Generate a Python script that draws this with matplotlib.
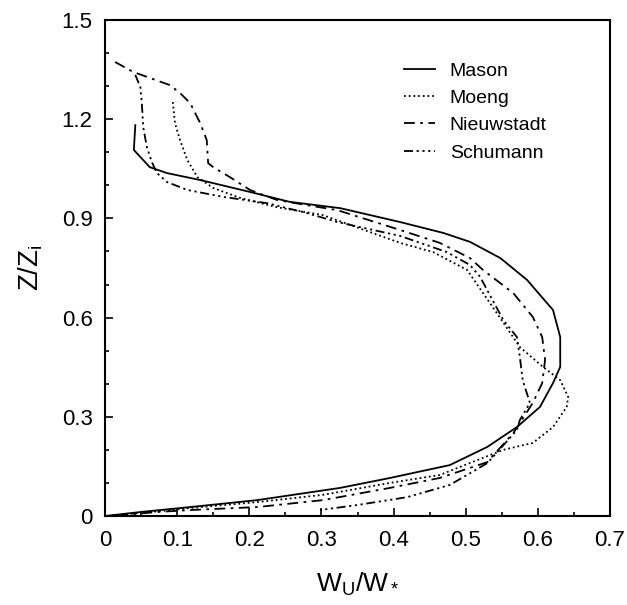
import matplotlib
matplotlib.use("Agg")
import matplotlib.pyplot as plt
from matplotlib.ticker import MultipleLocator, FuncFormatter

plt.rcParams['font.family'] = ['Liberation Sans', 'DejaVu Sans']
plt.rcParams['mathtext.fontset'] = 'custom'
plt.rcParams['mathtext.rm'] = 'Liberation Sans'
plt.rcParams['mathtext.it'] = 'Liberation Sans'

# profiles: w_u/w_* against z/z_i
mason_w = [0.042, 0.040, 0.062, 0.086, 0.132, 0.201, 0.256, 0.326, 0.409, 0.469, 0.506,
           0.548, 0.585, 0.621, 0.631, 0.631, 0.621, 0.603, 0.571, 0.530, 0.478, 0.395,
           0.326, 0.211, 0.118, 0.049, 0.0]
mason_z = [1.182, 1.107, 1.055, 1.037, 1.016, 0.980, 0.950, 0.931, 0.889, 0.856, 0.829,
           0.780, 0.714, 0.623, 0.541, 0.451, 0.402, 0.330, 0.269, 0.209, 0.154, 0.115,
           0.085, 0.048, 0.027, 0.012, 0.0]

moeng_w = [0.094, 0.097, 0.104, 0.114, 0.128, 0.150, 0.187, 0.238, 0.302, 0.409, 0.455,
           0.502, 0.543, 0.575, 0.607, 0.631, 0.642, 0.640, 0.621, 0.593, 0.552, 0.516,
           0.464, 0.395, 0.302, 0.211, 0.118, 0.049, 0.007]
moeng_z = [1.252, 1.188, 1.137, 1.077, 1.025, 0.992, 0.962, 0.934, 0.910, 0.826, 0.798,
           0.744, 0.614, 0.511, 0.451, 0.411, 0.360, 0.330, 0.269, 0.221, 0.200, 0.169,
           0.124, 0.100, 0.064, 0.042, 0.024, 0.009, 0.0]

nieu_w = [0.014, 0.039, 0.090, 0.104, 0.118, 0.132, 0.141, 0.143, 0.150, 0.173, 0.201,
          0.238, 0.280, 0.322, 0.409, 0.464, 0.506, 0.524, 0.566, 0.593, 0.606, 0.610,
          0.606, 0.593, 0.575, 0.566, 0.530, 0.464, 0.395, 0.302, 0.211, 0.118, 0.072, 0.025]
nieu_z = [1.373, 1.343, 1.303, 1.279, 1.249, 1.188, 1.137, 1.067, 1.055, 1.025, 0.986,
          0.956, 0.940, 0.925, 0.865, 0.826, 0.780, 0.744, 0.674, 0.602, 0.541, 0.472,
          0.402, 0.342, 0.281, 0.251, 0.163, 0.115, 0.085, 0.048, 0.027, 0.018, 0.012, 0.003]

schu_w = [0.042, 0.049, 0.051, 0.053, 0.058, 0.065, 0.072, 0.086, 0.114, 0.164, 0.225,
          0.280, 0.322, 0.409, 0.474, 0.506, 0.520, 0.552, 0.571, 0.575, 0.579, 0.589,
          0.575, 0.571, 0.530, 0.478, 0.419, 0.349, 0.298]
schu_z = [1.334, 1.297, 1.249, 1.176, 1.116, 1.070, 1.037, 1.010, 0.986, 0.965, 0.946,
          0.916, 0.889, 0.847, 0.798, 0.759, 0.723, 0.593, 0.541, 0.481, 0.411, 0.342,
          0.290, 0.260, 0.160, 0.094, 0.057, 0.033, 0.018]

labels = ["Mason", "Moeng", "Nieuwstadt", "Schumann"]

fig = plt.figure(figsize=(6.27, 6.05), dpi=100)
ax = fig.add_axes([105 / 627, 1 - 516 / 605, 505 / 627, 496 / 605])

lw = 1.3
ax.plot(mason_w, mason_z, color='black', lw=lw, ls='-', label=labels[0])
ax.plot(moeng_w, moeng_z, color='black', lw=lw, ls=(0, (1, 1.6)), label=labels[1])
ax.plot(nieu_w, nieu_z, color='black', lw=lw, ls=(0, (6, 3, 1.5, 3)), label=labels[2])
ax.plot(schu_w, schu_z, color='black', lw=lw, ls=(0, (5, 2, 1.2, 2, 1.2, 2, 1.2, 2)), label=labels[3])

ax.set_xlim(0, 0.7)
ax.set_ylim(0, 1.5)
ax.xaxis.set_major_locator(MultipleLocator(0.1))
ax.xaxis.set_minor_locator(MultipleLocator(0.05))
ax.yaxis.set_major_locator(MultipleLocator(0.3))
ax.yaxis.set_minor_locator(MultipleLocator(0.1))
fmt = FuncFormatter(lambda v, p: "0" if abs(v) < 1e-9 else f"{v:.1f}")
ax.xaxis.set_major_formatter(fmt)
ax.yaxis.set_major_formatter(fmt)
ax.tick_params(which='both', direction='in', top=False, right=False, labelsize=16, width=1.2)
ax.tick_params(which='major', length=6)
ax.tick_params(which='minor', length=3)
ax.tick_params(axis='x', pad=10)
ax.tick_params(axis='y', pad=9)
for s in ax.spines.values():
    s.set_linewidth(1.5)

ax.set_xlabel("W$_\\mathregular{U}$/W$_*$", fontsize=19, labelpad=14)
ax.set_ylabel("Z/Z$_\\mathregular{i}$", fontsize=20, labelpad=12)

ax.legend(loc='upper left', bbox_to_anchor=(404 / 627, 1 - 62 / 605),
          bbox_transform=fig.transFigure, frameon=False, fontsize=14,
          handlelength=1.6, handletextpad=0.75, labelspacing=0.5,
          borderpad=0, borderaxespad=0)

fig.savefig("out.png", dpi=100)
